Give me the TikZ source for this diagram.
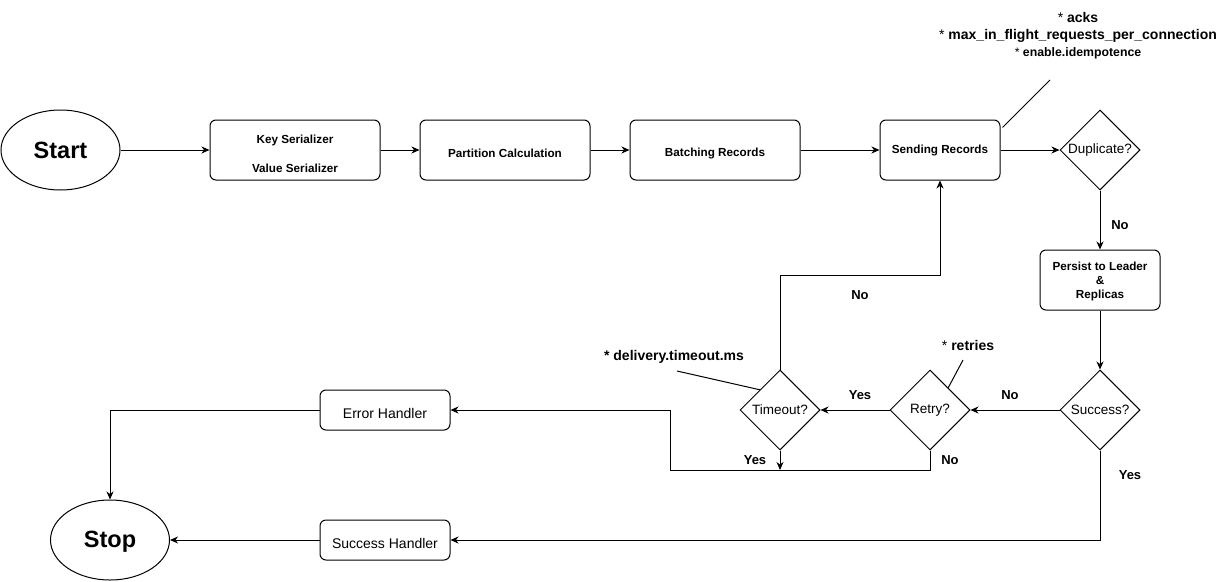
\documentclass[tikz,border=0pt]{standalone}
\usepackage{fontspec}
\setmainfont{Liberation Sans}
\usetikzlibrary{shapes.geometric,arrows.meta,calc}
\newcommand\lowertxt[2]{\raisebox{0pt}[\dimexpr\height+#1\relax]{#2}}
\tikzset{
 proc/.style={draw, line width=1pt, rounded corners=6pt, minimum height=60pt, inner sep=0pt, align=center, font=\fontsize{11.7}{14}\selectfont\bfseries},
 dec/.style={draw, line width=1pt, diamond, aspect=1, minimum width=80pt, minimum height=80pt, inner sep=0pt, font=\fontsize{13.5}{15}\selectfont},
 term/.style={draw, line width=1pt, ellipse, minimum width=119pt, minimum height=80pt, inner sep=0pt, font=\fontsize{23.5}{26}\selectfont\bfseries},
 handler/.style={draw, line width=1pt, rounded corners=6pt, minimum width=130pt, minimum height=40pt, inner sep=0pt, font=\fontsize{14}{16}\selectfont},
 lbl/.style={font=\fontsize{13}{15}\selectfont\bfseries, inner sep=0pt},
 note/.style={font=\fontsize{14}{17}\selectfont\bfseries, inner sep=0pt, align=center},
 flow/.style={draw, line width=1pt, -{Stealth[length=8pt,width=7pt,inset=2.5pt]}},
 plain/.style={draw, line width=1pt},
}
\begin{document}
\begin{tikzpicture}[x=1pt,y=-1pt]
\useasboundingbox (0,0) rectangle (1231,581);
% nodes
\node[term] (start) at (60.5,150) {Start};
\node[proc, minimum width=170pt] (ser) at (295,150) {\lowertxt{10pt}{\begin{tabular}{@{}c@{}}Key Serializer\\[15pt]Value Serializer\end{tabular}}};
\node[proc, minimum width=170pt] (part) at (505,150) {\lowertxt{6pt}{Partition Calculation}};
\node[proc, minimum width=170pt] (batch) at (715,150) {\lowertxt{6pt}{Batching Records}};
\node[proc, minimum width=120pt] (send) at (940,150) {Sending Records};
\node[dec] (dup) at (1100,150) {Duplicate?};
\node[proc, minimum width=120pt] (persist) at (1100,280) {\lowertxt{4pt}{\begin{tabular}{@{}c@{}}Persist to Leader\\\&\\Replicas\end{tabular}}};
\node[dec] (succ) at (1100,410) {Success?};
\node[dec] (retry) at (930,410) {Retry?};
\node[dec] (tout) at (780,410) {Timeout?};
\node[handler] (err) at (385,410) {\lowertxt{6pt}{Error Handler}};
\node[handler] (sh) at (385,540) {\lowertxt{6pt}{Success Handler}};
\node[term] (stop) at (110,540) {\lowertxt{4pt}{Stop}};
% helper coordinates
\coordinate (loopc) at (940,275);
\coordinate (joinc) at (670,470);
\coordinate (a1) at (1050,80);
\coordinate (r1) at (963,360);
\coordinate (d1) at (677,371);
% connectors
\path[flow] (start.east) -- (ser.west);
\path[flow] (ser.east) -- (part.west);
\path[flow] (part.east) -- (batch.west);
\path[flow] (batch.east) -- (send.west);
\path[flow] (send.east) -- (dup.west);
\path[flow] (dup.south) -- (persist.north);
\path[flow] (persist.south) -- (succ.north);
\path[flow] (succ.west) -- (retry.east);
\path[flow] (retry.west) -- (tout.east);
\path[flow] (tout.north) |- (loopc) -- (send.south);
\path[flow] (retry.south) |- (joinc) |- (err.east);
\path[flow] (tout.south) -- (tout.south |- joinc);
\path[flow] (err.west) -| (stop.north);
\path[flow] (succ.south) |- (sh.east);
\path[flow] (sh.west) -- (stop.east);
% annotations
\path[plain] ([xshift=2pt,yshift=-8pt]send.north east) -- (a1);
\path[plain] ($(retry.north)!0.45!(retry.east)$) -- (r1);
\path[plain] (tout.north west) -- (d1);
\node[note] (nsend) at (1078,36) {{\mdseries *} acks\\{\mdseries *} max\_in\_flight\_requests\_per\_connection\\{\fontsize{12.3}{17}\selectfont{\mdseries *} enable.idempotence}};
\node[note] (nret) at (968,345) {{\mdseries *} retries};
\node[note] (ndel) at (674,357) {* delivery.timeout.ms};
% labels
\node[lbl] (l1) at (1120,225) {No};
\node[lbl] (l2) at (1010,395) {No};
\node[lbl] (l3) at (860,395) {Yes};
\node[lbl] (l4) at (860,295) {No};
\node[lbl] (l5) at (755,460) {Yes};
\node[lbl] (l6) at (950,460) {No};
\node[lbl] (l7) at (1130,475) {Yes};
\end{tikzpicture}
\end{document}
